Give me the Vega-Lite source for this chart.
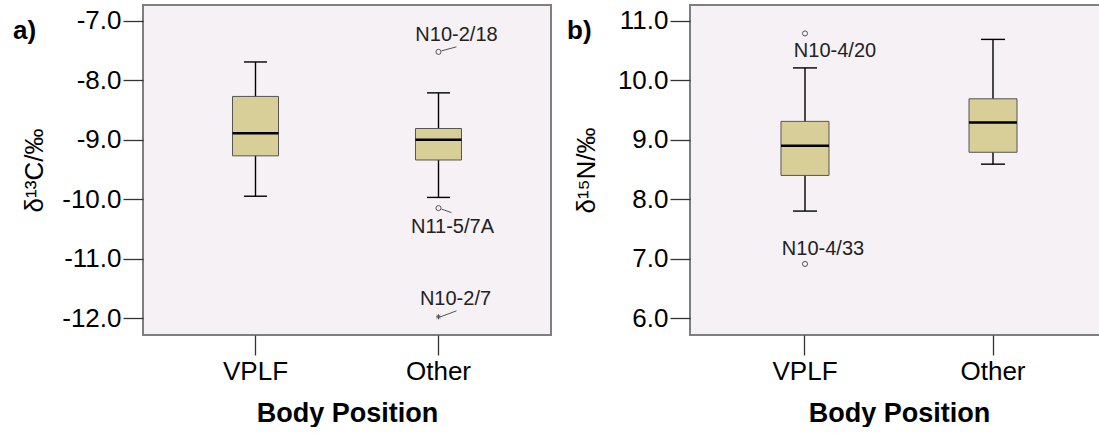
{
  "$schema": "https://vega.github.io/schema/vega-lite/v6.json",
  "padding": {"left": 12, "top": 4, "right": 0, "bottom": 0},
  "background": "white",
  "spacing": 14,
  "datasets": {
    "c_box": [
      {"cat": "VPLF", "lo": -9.95, "q1": -9.27, "med": -8.89, "q3": -8.27, "hi": -7.69},
      {"cat": "Other", "lo": -9.97, "q1": -9.34, "med": -9.0, "q3": -8.81, "hi": -8.21}
    ],
    "c_out": [
      {"cat": "Other", "value": -7.52, "label": "N10-2/18", "kind": "outlier"},
      {"cat": "Other", "value": -10.15, "label": "N11-5/7A", "kind": "outlier"},
      {"cat": "Other", "value": -11.98, "label": "N10-2/7", "kind": "extreme"}
    ],
    "n_box": [
      {"cat": "VPLF", "lo": 7.80, "q1": 8.40, "med": 8.90, "q3": 9.31, "hi": 10.21},
      {"cat": "Other", "lo": 8.59, "q1": 8.79, "med": 9.29, "q3": 9.69, "hi": 10.69}
    ],
    "n_out": [
      {"cat": "VPLF", "value": 10.79, "label": "N10-4/20", "kind": "outlier"},
      {"cat": "VPLF", "value": 6.91, "label": "N10-4/33", "kind": "outlier"}
    ]
  },
  "config": {
    "font": "Liberation Sans",
    "view": {"fill": "#F5F1F5", "stroke": "#7e7e7e", "strokeWidth": 2},
    "axis": {
      "labelFont": "Liberation Sans", "titleFont": "Liberation Sans",
      "labelColor": "#000", "titleColor": "#000",
      "tickColor": "#333", "tickWidth": 1.3, "domain": false, "grid": false,
      "tickSize": 20, "labelPadding": 2, "labelFontSize": 26
    }
  },
  "hconcat": [
    {
      "width": 408, "height": 330,
      "title": {"text": "a)", "anchor": "start", "frame": "group", "orient": "top", "offset": 0, "dx": -130, "dy": 60, "fontSize": 26, "fontWeight": "bold", "baseline": "alphabetic", "font": "Liberation Sans", "color": "#000"},
      "encoding": {
        "x": {"field": "cat", "type": "nominal", "sort": ["VPLF", "Other"],
          "scale": {"domain": ["VPLF", "Other"], "paddingInner": 0, "paddingOuter": 0.1148},
          "axis": {"title": "Body Position", "labelAngle": 0, "labelPadding": 3, "titleFontSize": 27, "titleFontWeight": "bold", "titlePadding": 16}}
      },
      "layer": [
        {"data": {"name": "c_box"}, "mark": {"type": "rule", "color": "#000", "strokeWidth": 1.4},
          "encoding": {"y": {"field": "lo", "type": "quantitative", "title": "δ¹³C/‰",
            "scale": {"domain": [-12.286, -6.731], "nice": false, "zero": false},
            "axis": {"values": [-12, -11, -10, -9, -8, -7], "labelExpr": "replace(format(datum.value, '.1f'), '−', '-')", "titleFontSize": 26, "titleFontWeight": "normal", "titlePadding": 14}},
            "y2": {"field": "hi"}}},
        {"data": {"name": "c_box"}, "mark": {"type": "bar", "size": 46, "fill": "#D8CF98", "stroke": "#555", "strokeWidth": 1},
          "encoding": {"y": {"field": "q1", "type": "quantitative", "title": "δ¹³C/‰"}, "y2": {"field": "q3"}}},
        {"data": {"name": "c_box"}, "mark": {"type": "tick", "size": 46, "thickness": 2.5, "color": "#000", "opacity": 1},
          "encoding": {"y": {"field": "med", "type": "quantitative", "title": "δ¹³C/‰"}}},
        {"data": {"name": "c_box"}, "mark": {"type": "tick", "size": 23, "thickness": 1.4, "color": "#000", "opacity": 1},
          "encoding": {"y": {"field": "lo", "type": "quantitative", "title": "δ¹³C/‰"}}},
        {"data": {"name": "c_box"}, "mark": {"type": "tick", "size": 23, "thickness": 1.4, "color": "#000", "opacity": 1},
          "encoding": {"y": {"field": "hi", "type": "quantitative", "title": "δ¹³C/‰"}}},
        {"data": {"name": "c_out"}, "mark": {"type": "point", "filled": false, "size": 26, "stroke": "#555", "strokeWidth": 1, "opacity": 1},
          "encoding": {"y": {"field": "value", "type": "quantitative", "title": "δ¹³C/‰"},
            "shape": {"field": "kind", "type": "nominal", "legend": null,
              "scale": {"domain": ["outlier", "extreme"], "range": ["circle", "M-1,0L1,0M0,-1L0,1M-0.7,-0.7L0.7,0.7M-0.7,0.7L0.7,-0.7"]}}}},
        {"data": {"name": "c_out"}, "transform": [{"filter": "datum.label === 'N10-2/18'"}],
          "mark": {"type": "rule", "color": "#555", "strokeWidth": 1, "xOffset": 3, "x2Offset": 18, "yOffset": -1, "y2Offset": -5},
          "encoding": {"x2": {"field": "cat"}, "y": {"field": "value", "type": "quantitative", "title": "δ¹³C/‰"}, "y2": {"field": "value"}}},
        {"data": {"name": "c_out"}, "transform": [{"filter": "datum.label === 'N11-5/7A'"}],
          "mark": {"type": "rule", "color": "#555", "strokeWidth": 1, "xOffset": 3, "x2Offset": 13, "yOffset": 1, "y2Offset": 4.5},
          "encoding": {"x2": {"field": "cat"}, "y": {"field": "value", "type": "quantitative", "title": "δ¹³C/‰"}, "y2": {"field": "value"}}},
        {"data": {"name": "c_out"}, "transform": [{"filter": "datum.label === 'N10-2/7'"}],
          "mark": {"type": "rule", "color": "#555", "strokeWidth": 1, "xOffset": 2, "x2Offset": 18, "yOffset": 0, "y2Offset": -6},
          "encoding": {"x2": {"field": "cat"}, "y": {"field": "value", "type": "quantitative", "title": "δ¹³C/‰"}, "y2": {"field": "value"}}},
        {"data": {"name": "c_out"}, "transform": [{"filter": "datum.label === 'N10-2/18'"}],
          "mark": {"type": "text", "fontSize": 20, "color": "#222", "align": "center", "baseline": "alphabetic", "dx": 18, "dy": -11},
          "encoding": {"y": {"field": "value", "type": "quantitative", "title": "δ¹³C/‰"}, "text": {"field": "label"}}},
        {"data": {"name": "c_out"}, "transform": [{"filter": "datum.label === 'N11-5/7A'"}],
          "mark": {"type": "text", "fontSize": 20, "color": "#222", "align": "center", "baseline": "alphabetic", "dx": 14, "dy": 25},
          "encoding": {"y": {"field": "value", "type": "quantitative", "title": "δ¹³C/‰"}, "text": {"field": "label"}}},
        {"data": {"name": "c_out"}, "transform": [{"filter": "datum.label === 'N10-2/7'"}],
          "mark": {"type": "text", "fontSize": 20, "color": "#222", "align": "center", "baseline": "alphabetic", "dx": 17, "dy": -12},
          "encoding": {"y": {"field": "value", "type": "quantitative", "title": "δ¹³C/‰"}, "text": {"field": "label"}}}
      ]
    },
    {
      "width": 418, "height": 330,
      "title": {"text": "b)", "anchor": "start", "frame": "group", "orient": "top", "offset": 0, "dx": -123, "dy": 60, "fontSize": 26, "fontWeight": "bold", "baseline": "alphabetic", "font": "Liberation Sans", "color": "#000"},
      "encoding": {
        "x": {"field": "cat", "type": "nominal", "sort": ["VPLF", "Other"],
          "scale": {"domain": ["VPLF", "Other"], "paddingInner": 0, "paddingOuter": 0.1117},
          "axis": {"title": "Body Position", "labelAngle": 0, "labelPadding": 3, "titleFontSize": 27, "titleFontWeight": "bold", "titlePadding": 16}}
      },
      "layer": [
        {"data": {"name": "n_box"}, "mark": {"type": "rule", "color": "#000", "strokeWidth": 1.4},
          "encoding": {"y": {"field": "lo", "type": "quantitative", "title": "δ¹⁵N/‰",
            "scale": {"domain": [5.714, 11.269], "nice": false, "zero": false},
            "axis": {"values": [6, 7, 8, 9, 10, 11], "format": ".1f", "titleFontSize": 26, "titleFontWeight": "normal", "titlePadding": 18}},
            "y2": {"field": "hi"}}},
        {"data": {"name": "n_box"}, "mark": {"type": "bar", "size": 48, "fill": "#D8CF98", "stroke": "#555", "strokeWidth": 1},
          "encoding": {"y": {"field": "q1", "type": "quantitative", "title": "δ¹⁵N/‰"}, "y2": {"field": "q3"}}},
        {"data": {"name": "n_box"}, "mark": {"type": "tick", "size": 48, "thickness": 2.5, "color": "#000", "opacity": 1},
          "encoding": {"y": {"field": "med", "type": "quantitative", "title": "δ¹⁵N/‰"}}},
        {"data": {"name": "n_box"}, "mark": {"type": "tick", "size": 24, "thickness": 1.4, "color": "#000", "opacity": 1},
          "encoding": {"y": {"field": "lo", "type": "quantitative", "title": "δ¹⁵N/‰"}}},
        {"data": {"name": "n_box"}, "mark": {"type": "tick", "size": 24, "thickness": 1.4, "color": "#000", "opacity": 1},
          "encoding": {"y": {"field": "hi", "type": "quantitative", "title": "δ¹⁵N/‰"}}},
        {"data": {"name": "n_out"}, "mark": {"type": "point", "filled": false, "size": 26, "shape": "circle", "stroke": "#555", "strokeWidth": 1, "opacity": 1},
          "encoding": {"y": {"field": "value", "type": "quantitative", "title": "δ¹⁵N/‰"}}},
        {"data": {"name": "n_out"}, "transform": [{"filter": "datum.label === 'N10-4/20'"}],
          "mark": {"type": "text", "fontSize": 20, "color": "#222", "align": "center", "baseline": "alphabetic", "dx": 30, "dy": 24},
          "encoding": {"y": {"field": "value", "type": "quantitative", "title": "δ¹⁵N/‰"}, "text": {"field": "label"}}},
        {"data": {"name": "n_out"}, "transform": [{"filter": "datum.label === 'N10-4/33'"}],
          "mark": {"type": "text", "fontSize": 20, "color": "#222", "align": "center", "baseline": "alphabetic", "dx": 18, "dy": -9},
          "encoding": {"y": {"field": "value", "type": "quantitative", "title": "δ¹⁵N/‰"}, "text": {"field": "label"}}}
      ]
    }
  ]
}
